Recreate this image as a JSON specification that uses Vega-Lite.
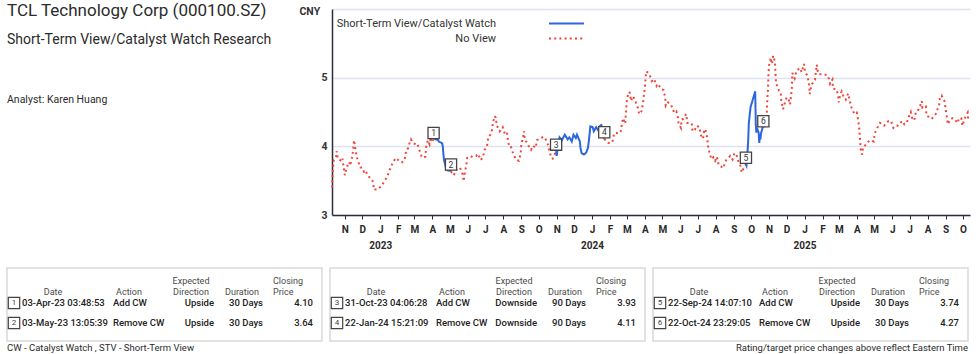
{
  "$schema": "https://vega.github.io/schema/vega-lite/v6.json",
  "background": "white",
  "padding": {"left": 5, "top": 1, "right": 2, "bottom": 2},
  "config": {
    "view": {"stroke": null},
    "font": "Roboto"
  },
  "datasets": {
    "prices": [
      {"d":"2022-10-10","p":3.40,"s":"N","g":"r1"},{"d":"2022-10-11","p":3.58,"s":"N","g":"r1"},{"d":"2022-10-12","p":3.70,"s":"N","g":"r1"},{"d":"2022-10-13","p":3.80,"s":"N","g":"r1"},{"d":"2022-10-17","p":3.85,"s":"N","g":"r1"},{"d":"2022-10-18","p":3.93,"s":"N","g":"r1"},{"d":"2022-10-20","p":3.82,"s":"N","g":"r1"},{"d":"2022-10-24","p":3.80,"s":"N","g":"r1"},{"d":"2022-10-27","p":3.78,"s":"N","g":"r1"},{"d":"2022-10-28","p":3.82,"s":"N","g":"r1"},
      {"d":"2022-11-01","p":3.58,"s":"N","g":"r1"},{"d":"2022-11-04","p":3.68,"s":"N","g":"r1"},{"d":"2022-11-07","p":3.75,"s":"N","g":"r1"},{"d":"2022-11-09","p":3.77,"s":"N","g":"r1"},{"d":"2022-11-10","p":3.72,"s":"N","g":"r1"},{"d":"2022-11-14","p":3.85,"s":"N","g":"r1"},{"d":"2022-11-16","p":4.00,"s":"N","g":"r1"},{"d":"2022-11-17","p":4.09,"s":"N","g":"r1"},{"d":"2022-11-21","p":3.87,"s":"N","g":"r1"},{"d":"2022-11-24","p":3.78,"s":"N","g":"r1"},{"d":"2022-11-28","p":3.69,"s":"N","g":"r1"},
      {"d":"2022-12-01","p":3.69,"s":"N","g":"r1"},{"d":"2022-12-04","p":3.63,"s":"N","g":"r1"},{"d":"2022-12-07","p":3.65,"s":"N","g":"r1"},{"d":"2022-12-09","p":3.60,"s":"N","g":"r1"},{"d":"2022-12-12","p":3.56,"s":"N","g":"r1"},{"d":"2022-12-16","p":3.53,"s":"N","g":"r1"},{"d":"2022-12-20","p":3.48,"s":"N","g":"r1"},{"d":"2022-12-21","p":3.37,"s":"N","g":"r1"},{"d":"2022-12-26","p":3.37,"s":"N","g":"r1"},{"d":"2022-12-30","p":3.39,"s":"N","g":"r1"},
      {"d":"2023-01-03","p":3.42,"s":"N","g":"r1"},{"d":"2023-01-09","p":3.50,"s":"N","g":"r1"},{"d":"2023-01-13","p":3.56,"s":"N","g":"r1"},{"d":"2023-01-18","p":3.67,"s":"N","g":"r1"},{"d":"2023-01-23","p":3.77,"s":"N","g":"r1"},{"d":"2023-01-28","p":3.83,"s":"N","g":"r1"},{"d":"2023-02-01","p":3.80,"s":"N","g":"r1"},{"d":"2023-02-05","p":3.77,"s":"N","g":"r1"},{"d":"2023-02-08","p":3.77,"s":"N","g":"r1"},{"d":"2023-02-12","p":3.80,"s":"N","g":"r1"},{"d":"2023-02-15","p":3.95,"s":"N","g":"r1"},{"d":"2023-02-18","p":3.97,"s":"N","g":"r1"},{"d":"2023-02-21","p":4.06,"s":"N","g":"r1"},{"d":"2023-02-23","p":4.10,"s":"N","g":"r1"},{"d":"2023-02-26","p":4.05,"s":"N","g":"r1"},
      {"d":"2023-03-03","p":4.03,"s":"N","g":"r1"},{"d":"2023-03-06","p":4.04,"s":"N","g":"r1"},{"d":"2023-03-09","p":3.96,"s":"N","g":"r1"},{"d":"2023-03-13","p":3.86,"s":"N","g":"r1"},{"d":"2023-03-16","p":3.83,"s":"N","g":"r1"},{"d":"2023-03-20","p":3.85,"s":"N","g":"r1"},{"d":"2023-03-21","p":3.98,"s":"N","g":"r1"},{"d":"2023-03-24","p":4.09,"s":"N","g":"r1"},{"d":"2023-03-27","p":4.03,"s":"N","g":"r1"},{"d":"2023-03-29","p":4.13,"s":"N","g":"r1"},{"d":"2023-03-31","p":4.06,"s":"N","g":"r1"},{"d":"2023-04-03","p":4.10,"s":"N","g":"r1"},
      {"d":"2023-04-03","p":4.10,"s":"C","g":"b1"},{"d":"2023-04-05","p":4.12,"s":"C","g":"b1"},{"d":"2023-04-07","p":4.10,"s":"C","g":"b1"},{"d":"2023-04-10","p":4.10,"s":"C","g":"b1"},{"d":"2023-04-12","p":4.07,"s":"C","g":"b1"},{"d":"2023-04-14","p":4.06,"s":"C","g":"b1"},{"d":"2023-04-17","p":4.05,"s":"C","g":"b1"},{"d":"2023-04-18","p":4.04,"s":"C","g":"b1"},{"d":"2023-04-19","p":3.98,"s":"C","g":"b1"},{"d":"2023-04-20","p":3.88,"s":"C","g":"b1"},{"d":"2023-04-21","p":3.80,"s":"C","g":"b1"},{"d":"2023-04-24","p":3.70,"s":"C","g":"b1"},{"d":"2023-04-25","p":3.66,"s":"C","g":"b1"},{"d":"2023-04-27","p":3.65,"s":"C","g":"b1"},{"d":"2023-05-03","p":3.64,"s":"C","g":"b1"},
      {"d":"2023-05-03","p":3.64,"s":"N","g":"r2"},{"d":"2023-05-04","p":3.62,"s":"N","g":"r2"},{"d":"2023-05-08","p":3.58,"s":"N","g":"r2"},{"d":"2023-05-11","p":3.65,"s":"N","g":"r2"},{"d":"2023-05-18","p":3.69,"s":"N","g":"r2"},{"d":"2023-05-22","p":3.63,"s":"N","g":"r2"},{"d":"2023-05-25","p":3.49,"s":"N","g":"r2"},{"d":"2023-05-26","p":3.58,"s":"N","g":"r2"},{"d":"2023-05-29","p":3.71,"s":"N","g":"r2"},{"d":"2023-05-31","p":3.83,"s":"N","g":"r2"},
      {"d":"2023-06-05","p":3.83,"s":"N","g":"r2"},{"d":"2023-06-09","p":3.86,"s":"N","g":"r2"},{"d":"2023-06-15","p":3.86,"s":"N","g":"r2"},{"d":"2023-06-19","p":3.89,"s":"N","g":"r2"},{"d":"2023-06-23","p":3.80,"s":"N","g":"r2"},{"d":"2023-06-27","p":3.84,"s":"N","g":"r2"},{"d":"2023-06-30","p":3.95,"s":"N","g":"r2"},{"d":"2023-07-04","p":4.00,"s":"N","g":"r2"},{"d":"2023-07-06","p":4.12,"s":"N","g":"r2"},{"d":"2023-07-12","p":4.20,"s":"N","g":"r2"},{"d":"2023-07-14","p":4.33,"s":"N","g":"r2"},{"d":"2023-07-17","p":4.44,"s":"N","g":"r2"},{"d":"2023-07-19","p":4.42,"s":"N","g":"r2"},{"d":"2023-07-21","p":4.30,"s":"N","g":"r2"},{"d":"2023-07-26","p":4.22,"s":"N","g":"r2"},{"d":"2023-07-31","p":4.28,"s":"N","g":"r2"},
      {"d":"2023-08-03","p":4.20,"s":"N","g":"r2"},{"d":"2023-08-07","p":4.22,"s":"N","g":"r2"},{"d":"2023-08-09","p":4.09,"s":"N","g":"r2"},{"d":"2023-08-11","p":4.00,"s":"N","g":"r2"},{"d":"2023-08-14","p":4.00,"s":"N","g":"r2"},{"d":"2023-08-17","p":3.92,"s":"N","g":"r2"},{"d":"2023-08-21","p":3.84,"s":"N","g":"r2"},{"d":"2023-08-24","p":3.80,"s":"N","g":"r2"},{"d":"2023-08-28","p":3.79,"s":"N","g":"r2"},{"d":"2023-08-31","p":3.90,"s":"N","g":"r2"},{"d":"2023-09-01","p":4.01,"s":"N","g":"r2"},{"d":"2023-09-04","p":4.13,"s":"N","g":"r2"},{"d":"2023-09-06","p":4.22,"s":"N","g":"r2"},{"d":"2023-09-07","p":4.10,"s":"N","g":"r2"},{"d":"2023-09-11","p":4.05,"s":"N","g":"r2"},{"d":"2023-09-14","p":4.00,"s":"N","g":"r2"},{"d":"2023-09-18","p":3.95,"s":"N","g":"r2"},{"d":"2023-09-21","p":4.01,"s":"N","g":"r2"},{"d":"2023-09-26","p":3.98,"s":"N","g":"r2"},{"d":"2023-09-28","p":4.09,"s":"N","g":"r2"},{"d":"2023-10-09","p":4.14,"s":"N","g":"r2"},{"d":"2023-10-12","p":4.12,"s":"N","g":"r2"},{"d":"2023-10-16","p":4.05,"s":"N","g":"r2"},{"d":"2023-10-19","p":3.95,"s":"N","g":"r2"},{"d":"2023-10-23","p":3.83,"s":"N","g":"r2"},{"d":"2023-10-25","p":3.82,"s":"N","g":"r2"},{"d":"2023-10-31","p":3.93,"s":"N","g":"r2"},
      {"d":"2023-10-31","p":3.93,"s":"C","g":"b2"},{"d":"2023-11-01","p":3.86,"s":"C","g":"b2"},{"d":"2023-11-03","p":3.98,"s":"C","g":"b2"},{"d":"2023-11-06","p":4.13,"s":"C","g":"b2"},{"d":"2023-11-10","p":4.09,"s":"C","g":"b2"},{"d":"2023-11-15","p":4.17,"s":"C","g":"b2"},{"d":"2023-11-20","p":4.10,"s":"C","g":"b2"},{"d":"2023-11-23","p":4.13,"s":"C","g":"b2"},{"d":"2023-11-27","p":4.07,"s":"C","g":"b2"},{"d":"2023-11-30","p":4.17,"s":"C","g":"b2"},{"d":"2023-12-04","p":4.12,"s":"C","g":"b2"},{"d":"2023-12-06","p":4.17,"s":"C","g":"b2"},{"d":"2023-12-11","p":4.07,"s":"C","g":"b2"},{"d":"2023-12-12","p":3.98,"s":"C","g":"b2"},{"d":"2023-12-14","p":3.90,"s":"C","g":"b2"},{"d":"2023-12-18","p":3.88,"s":"C","g":"b2"},{"d":"2023-12-22","p":3.91,"s":"C","g":"b2"},{"d":"2023-12-25","p":3.98,"s":"C","g":"b2"},{"d":"2023-12-27","p":4.12,"s":"C","g":"b2"},{"d":"2023-12-29","p":4.29,"s":"C","g":"b2"},{"d":"2024-01-02","p":4.28,"s":"C","g":"b2"},{"d":"2024-01-04","p":4.22,"s":"C","g":"b2"},{"d":"2024-01-08","p":4.28,"s":"C","g":"b2"},{"d":"2024-01-11","p":4.24,"s":"C","g":"b2"},{"d":"2024-01-15","p":4.30,"s":"C","g":"b2"},{"d":"2024-01-17","p":4.31,"s":"C","g":"b2"},{"d":"2024-01-19","p":4.20,"s":"C","g":"b2"},{"d":"2024-01-22","p":4.11,"s":"C","g":"b2"},
      {"d":"2024-01-22","p":4.11,"s":"N","g":"r3"},{"d":"2024-01-23","p":4.10,"s":"N","g":"r3"},{"d":"2024-01-29","p":4.05,"s":"N","g":"r3"},{"d":"2024-02-05","p":4.06,"s":"N","g":"r3"},{"d":"2024-02-08","p":4.19,"s":"N","g":"r3"},{"d":"2024-02-19","p":4.20,"s":"N","g":"r3"},{"d":"2024-02-21","p":4.30,"s":"N","g":"r3"},{"d":"2024-02-23","p":4.41,"s":"N","g":"r3"},{"d":"2024-02-27","p":4.33,"s":"N","g":"r3"},{"d":"2024-02-28","p":4.45,"s":"N","g":"r3"},{"d":"2024-02-29","p":4.56,"s":"N","g":"r3"},{"d":"2024-03-01","p":4.68,"s":"N","g":"r3"},{"d":"2024-03-04","p":4.79,"s":"N","g":"r3"},{"d":"2024-03-06","p":4.78,"s":"N","g":"r3"},{"d":"2024-03-08","p":4.66,"s":"N","g":"r3"},{"d":"2024-03-11","p":4.73,"s":"N","g":"r3"},{"d":"2024-03-15","p":4.68,"s":"N","g":"r3"},{"d":"2024-03-18","p":4.59,"s":"N","g":"r3"},{"d":"2024-03-20","p":4.56,"s":"N","g":"r3"},{"d":"2024-03-22","p":4.47,"s":"N","g":"r3"},{"d":"2024-03-26","p":4.51,"s":"N","g":"r3"},{"d":"2024-03-29","p":4.64,"s":"N","g":"r3"},{"d":"2024-03-30","p":4.73,"s":"N","g":"r3"},
      {"d":"2024-04-01","p":4.86,"s":"N","g":"r3"},{"d":"2024-04-02","p":4.98,"s":"N","g":"r3"},{"d":"2024-04-03","p":5.09,"s":"N","g":"r3"},{"d":"2024-04-07","p":5.07,"s":"N","g":"r3"},{"d":"2024-04-10","p":5.02,"s":"N","g":"r3"},{"d":"2024-04-13","p":4.95,"s":"N","g":"r3"},{"d":"2024-04-17","p":4.98,"s":"N","g":"r3"},{"d":"2024-04-19","p":4.93,"s":"N","g":"r3"},{"d":"2024-04-21","p":4.88,"s":"N","g":"r3"},{"d":"2024-04-24","p":4.91,"s":"N","g":"r3"},{"d":"2024-04-27","p":4.86,"s":"N","g":"r3"},{"d":"2024-04-30","p":4.83,"s":"N","g":"r3"},{"d":"2024-05-03","p":4.82,"s":"N","g":"r3"},{"d":"2024-05-06","p":4.71,"s":"N","g":"r3"},{"d":"2024-05-07","p":4.59,"s":"N","g":"r3"},{"d":"2024-05-11","p":4.64,"s":"N","g":"r3"},{"d":"2024-05-15","p":4.61,"s":"N","g":"r3"},{"d":"2024-05-19","p":4.56,"s":"N","g":"r3"},{"d":"2024-05-21","p":4.49,"s":"N","g":"r3"},{"d":"2024-05-25","p":4.51,"s":"N","g":"r3"},{"d":"2024-05-27","p":4.47,"s":"N","g":"r3"},{"d":"2024-05-29","p":4.34,"s":"N","g":"r3"},
      {"d":"2024-06-02","p":4.27,"s":"N","g":"r3"},{"d":"2024-06-03","p":4.39,"s":"N","g":"r3"},{"d":"2024-06-06","p":4.40,"s":"N","g":"r3"},{"d":"2024-06-11","p":4.47,"s":"N","g":"r3"},{"d":"2024-06-13","p":4.34,"s":"N","g":"r3"},{"d":"2024-06-17","p":4.35,"s":"N","g":"r3"},{"d":"2024-06-21","p":4.32,"s":"N","g":"r3"},{"d":"2024-06-22","p":4.22,"s":"N","g":"r3"},{"d":"2024-06-26","p":4.24,"s":"N","g":"r3"},{"d":"2024-06-29","p":4.30,"s":"N","g":"r3"},{"d":"2024-07-04","p":4.28,"s":"N","g":"r3"},{"d":"2024-07-06","p":4.17,"s":"N","g":"r3"},{"d":"2024-07-10","p":4.11,"s":"N","g":"r3"},{"d":"2024-07-12","p":4.22,"s":"N","g":"r3"},{"d":"2024-07-14","p":4.25,"s":"N","g":"r3"},{"d":"2024-07-17","p":4.14,"s":"N","g":"r3"},{"d":"2024-07-19","p":3.99,"s":"N","g":"r3"},{"d":"2024-07-22","p":3.88,"s":"N","g":"r3"},{"d":"2024-07-25","p":3.81,"s":"N","g":"r3"},{"d":"2024-07-28","p":3.84,"s":"N","g":"r3"},{"d":"2024-07-31","p":3.79,"s":"N","g":"r3"},
      {"d":"2024-08-03","p":3.85,"s":"N","g":"r3"},{"d":"2024-08-06","p":3.73,"s":"N","g":"r3"},{"d":"2024-08-10","p":3.71,"s":"N","g":"r3"},{"d":"2024-08-13","p":3.68,"s":"N","g":"r3"},{"d":"2024-08-15","p":3.71,"s":"N","g":"r3"},{"d":"2024-08-19","p":3.80,"s":"N","g":"r3"},{"d":"2024-08-23","p":3.83,"s":"N","g":"r3"},{"d":"2024-08-26","p":3.86,"s":"N","g":"r3"},{"d":"2024-08-30","p":3.81,"s":"N","g":"r3"},{"d":"2024-09-02","p":3.89,"s":"N","g":"r3"},{"d":"2024-09-05","p":3.90,"s":"N","g":"r3"},{"d":"2024-09-09","p":3.78,"s":"N","g":"r3"},{"d":"2024-09-12","p":3.73,"s":"N","g":"r3"},{"d":"2024-09-15","p":3.62,"s":"N","g":"r3"},{"d":"2024-09-18","p":3.68,"s":"N","g":"r3"},{"d":"2024-09-22","p":3.74,"s":"N","g":"r3"},
      {"d":"2024-09-22","p":3.74,"s":"C","g":"b3"},{"d":"2024-09-23","p":3.72,"s":"C","g":"b3"},{"d":"2024-09-24","p":3.80,"s":"C","g":"b3"},{"d":"2024-09-25","p":3.95,"s":"C","g":"b3"},{"d":"2024-09-26","p":4.10,"s":"C","g":"b3"},{"d":"2024-09-27","p":4.34,"s":"C","g":"b3"},{"d":"2024-09-30","p":4.57,"s":"C","g":"b3"},{"d":"2024-10-08","p":4.80,"s":"C","g":"b3"},{"d":"2024-10-09","p":4.32,"s":"C","g":"b3"},{"d":"2024-10-10","p":4.20,"s":"C","g":"b3"},{"d":"2024-10-11","p":4.27,"s":"C","g":"b3"},{"d":"2024-10-14","p":4.20,"s":"C","g":"b3"},{"d":"2024-10-15","p":4.05,"s":"C","g":"b3"},{"d":"2024-10-16","p":4.15,"s":"C","g":"b3"},{"d":"2024-10-17","p":4.10,"s":"C","g":"b3"},{"d":"2024-10-18","p":4.19,"s":"C","g":"b3"},{"d":"2024-10-21","p":4.28,"s":"C","g":"b3"},{"d":"2024-10-22","p":4.27,"s":"C","g":"b3"},
      {"d":"2024-10-22","p":4.27,"s":"N","g":"r4"},{"d":"2024-10-25","p":4.35,"s":"N","g":"r4"},{"d":"2024-10-28","p":4.49,"s":"N","g":"r4"},{"d":"2024-10-29","p":4.71,"s":"N","g":"r4"},{"d":"2024-10-30","p":4.82,"s":"N","g":"r4"},{"d":"2024-10-31","p":5.08,"s":"N","g":"r4"},{"d":"2024-11-01","p":5.19,"s":"N","g":"r4"},{"d":"2024-11-04","p":5.29,"s":"N","g":"r4"},{"d":"2024-11-05","p":5.20,"s":"N","g":"r4"},{"d":"2024-11-06","p":5.22,"s":"N","g":"r4"},{"d":"2024-11-07","p":5.28,"s":"N","g":"r4"},{"d":"2024-11-08","p":5.32,"s":"N","g":"r4"},{"d":"2024-11-11","p":5.23,"s":"N","g":"r4"},{"d":"2024-11-12","p":5.04,"s":"N","g":"r4"},{"d":"2024-11-13","p":4.92,"s":"N","g":"r4"},{"d":"2024-11-18","p":4.81,"s":"N","g":"r4"},{"d":"2024-11-21","p":4.78,"s":"N","g":"r4"},{"d":"2024-11-22","p":4.66,"s":"N","g":"r4"},{"d":"2024-11-25","p":4.54,"s":"N","g":"r4"},{"d":"2024-11-28","p":4.63,"s":"N","g":"r4"},
      {"d":"2024-12-01","p":4.71,"s":"N","g":"r4"},{"d":"2024-12-04","p":4.70,"s":"N","g":"r4"},{"d":"2024-12-07","p":4.61,"s":"N","g":"r4"},{"d":"2024-12-10","p":4.83,"s":"N","g":"r4"},{"d":"2024-12-11","p":5.07,"s":"N","g":"r4"},{"d":"2024-12-15","p":4.99,"s":"N","g":"r4"},{"d":"2024-12-18","p":5.10,"s":"N","g":"r4"},{"d":"2024-12-21","p":5.12,"s":"N","g":"r4"},{"d":"2024-12-24","p":5.14,"s":"N","g":"r4"},{"d":"2024-12-27","p":5.08,"s":"N","g":"r4"},{"d":"2024-12-31","p":5.20,"s":"N","g":"r4"},
      {"d":"2025-01-02","p":5.08,"s":"N","g":"r4"},{"d":"2025-01-06","p":5.03,"s":"N","g":"r4"},{"d":"2025-01-09","p":4.89,"s":"N","g":"r4"},{"d":"2025-01-10","p":4.76,"s":"N","g":"r4"},{"d":"2025-01-12","p":4.86,"s":"N","g":"r4"},{"d":"2025-01-14","p":4.91,"s":"N","g":"r4"},{"d":"2025-01-19","p":4.97,"s":"N","g":"r4"},{"d":"2025-01-22","p":5.19,"s":"N","g":"r4"},{"d":"2025-01-24","p":5.08,"s":"N","g":"r4"},{"d":"2025-01-26","p":5.05,"s":"N","g":"r4"},{"d":"2025-02-04","p":5.05,"s":"N","g":"r4"},{"d":"2025-02-10","p":5.03,"s":"N","g":"r4"},{"d":"2025-02-12","p":4.98,"s":"N","g":"r4"},{"d":"2025-02-14","p":4.91,"s":"N","g":"r4"},{"d":"2025-02-18","p":4.97,"s":"N","g":"r4"},{"d":"2025-02-19","p":4.84,"s":"N","g":"r4"},{"d":"2025-02-25","p":4.83,"s":"N","g":"r4"},{"d":"2025-02-28","p":4.73,"s":"N","g":"r4"},
      {"d":"2025-03-01","p":4.64,"s":"N","g":"r4"},{"d":"2025-03-03","p":4.74,"s":"N","g":"r4"},{"d":"2025-03-06","p":4.80,"s":"N","g":"r4"},{"d":"2025-03-09","p":4.73,"s":"N","g":"r4"},{"d":"2025-03-13","p":4.68,"s":"N","g":"r4"},{"d":"2025-03-17","p":4.77,"s":"N","g":"r4"},{"d":"2025-03-20","p":4.66,"s":"N","g":"r4"},{"d":"2025-03-23","p":4.56,"s":"N","g":"r4"},{"d":"2025-03-28","p":4.47,"s":"N","g":"r4"},{"d":"2025-04-01","p":4.49,"s":"N","g":"r4"},{"d":"2025-04-03","p":4.40,"s":"N","g":"r4"},{"d":"2025-04-05","p":4.28,"s":"N","g":"r4"},{"d":"2025-04-06","p":4.17,"s":"N","g":"r4"},{"d":"2025-04-07","p":4.05,"s":"N","g":"r4"},{"d":"2025-04-08","p":3.93,"s":"N","g":"r4"},{"d":"2025-04-10","p":3.88,"s":"N","g":"r4"},{"d":"2025-04-12","p":3.99,"s":"N","g":"r4"},{"d":"2025-04-15","p":4.01,"s":"N","g":"r4"},{"d":"2025-04-21","p":4.07,"s":"N","g":"r4"},{"d":"2025-04-26","p":4.09,"s":"N","g":"r4"},{"d":"2025-04-30","p":4.07,"s":"N","g":"r4"},
      {"d":"2025-05-02","p":4.19,"s":"N","g":"r4"},{"d":"2025-05-07","p":4.28,"s":"N","g":"r4"},{"d":"2025-05-11","p":4.34,"s":"N","g":"r4"},{"d":"2025-05-15","p":4.32,"s":"N","g":"r4"},{"d":"2025-05-18","p":4.30,"s":"N","g":"r4"},{"d":"2025-05-23","p":4.35,"s":"N","g":"r4"},{"d":"2025-05-26","p":4.37,"s":"N","g":"r4"},{"d":"2025-05-30","p":4.37,"s":"N","g":"r4"},{"d":"2025-06-03","p":4.27,"s":"N","g":"r4"},{"d":"2025-06-06","p":4.30,"s":"N","g":"r4"},{"d":"2025-06-10","p":4.30,"s":"N","g":"r4"},{"d":"2025-06-14","p":4.32,"s":"N","g":"r4"},{"d":"2025-06-18","p":4.37,"s":"N","g":"r4"},{"d":"2025-06-22","p":4.32,"s":"N","g":"r4"},{"d":"2025-06-26","p":4.34,"s":"N","g":"r4"},{"d":"2025-06-29","p":4.42,"s":"N","g":"r4"},
      {"d":"2025-07-03","p":4.50,"s":"N","g":"r4"},{"d":"2025-07-06","p":4.39,"s":"N","g":"r4"},{"d":"2025-07-09","p":4.38,"s":"N","g":"r4"},{"d":"2025-07-12","p":4.51,"s":"N","g":"r4"},{"d":"2025-07-16","p":4.53,"s":"N","g":"r4"},{"d":"2025-07-19","p":4.59,"s":"N","g":"r4"},{"d":"2025-07-22","p":4.66,"s":"N","g":"r4"},{"d":"2025-07-23","p":4.56,"s":"N","g":"r4"},{"d":"2025-07-29","p":4.58,"s":"N","g":"r4"},{"d":"2025-07-30","p":4.45,"s":"N","g":"r4"},{"d":"2025-08-03","p":4.43,"s":"N","g":"r4"},{"d":"2025-08-08","p":4.40,"s":"N","g":"r4"},{"d":"2025-08-11","p":4.43,"s":"N","g":"r4"},{"d":"2025-08-15","p":4.47,"s":"N","g":"r4"},{"d":"2025-08-18","p":4.54,"s":"N","g":"r4"},{"d":"2025-08-21","p":4.61,"s":"N","g":"r4"},{"d":"2025-08-22","p":4.71,"s":"N","g":"r4"},{"d":"2025-08-25","p":4.74,"s":"N","g":"r4"},{"d":"2025-08-28","p":4.69,"s":"N","g":"r4"},{"d":"2025-08-30","p":4.66,"s":"N","g":"r4"},
      {"d":"2025-09-01","p":4.55,"s":"N","g":"r4"},{"d":"2025-09-03","p":4.43,"s":"N","g":"r4"},{"d":"2025-09-05","p":4.32,"s":"N","g":"r4"},{"d":"2025-09-09","p":4.39,"s":"N","g":"r4"},{"d":"2025-09-13","p":4.41,"s":"N","g":"r4"},{"d":"2025-09-17","p":4.39,"s":"N","g":"r4"},{"d":"2025-09-22","p":4.34,"s":"N","g":"r4"},{"d":"2025-09-24","p":4.41,"s":"N","g":"r4"},{"d":"2025-09-28","p":4.41,"s":"N","g":"r4"},{"d":"2025-09-30","p":4.30,"s":"N","g":"r4"},{"d":"2025-10-05","p":4.43,"s":"N","g":"r4"},{"d":"2025-10-09","p":4.49,"s":"N","g":"r4"},{"d":"2025-10-10","p":4.37,"s":"N","g":"r4"}
    ],
    "events": [
      {"table":1,"row":1,"n":1,"d":"2023-04-03","date":"03-Apr-23 03:48:53","action":"Add CW","dir":"Upside","dur":"30 Days","price":4.10},
      {"table":1,"row":2,"n":2,"d":"2023-05-03","date":"03-May-23 13:05:39","action":"Remove CW","dir":"Upside","dur":"30 Days","price":3.64},
      {"table":2,"row":1,"n":3,"d":"2023-10-31","date":"31-Oct-23 04:06:28","action":"Add CW","dir":"Downside","dur":"90 Days","price":3.93},
      {"table":2,"row":2,"n":4,"d":"2024-01-22","date":"22-Jan-24 15:21:09","action":"Remove CW","dir":"Downside","dur":"90 Days","price":4.11},
      {"table":3,"row":1,"n":5,"d":"2024-09-22","date":"22-Sep-24 14:07:10","action":"Add CW","dir":"Upside","dur":"30 Days","price":3.74},
      {"table":3,"row":2,"n":6,"d":"2024-10-22","date":"22-Oct-24 23:29:05","action":"Remove CW","dir":"Upside","dur":"30 Days","price":4.27}
    ]
  },
  "vconcat": [
    {
      "hconcat": [
        {
          "width": 270,
          "height": 93,
          "layer": [
            {
              "data": {"values": [{"line": "title", "label": "TCL Technology Corp (000100.SZ)"}]},
              "mark": {"type": "text", "align": "left", "baseline": "middle", "fontSize": 17, "color": "#2b2b2b", "dy": -1},
              "encoding": {
                "x": {"datum": 0, "type": "quantitative", "scale": {"domain": [0, 1]}, "axis": null},
                "y": {"field": "line", "type": "nominal", "scale": {"domain": ["title", "subtitle", "gap", "analyst"], "padding": 0.1}, "axis": null},
                "text": {"field": "label"}
              }
            },
            {
              "data": {"values": [{"line": "subtitle", "label": "Short-Term View/Catalyst Watch Research"}]},
              "mark": {"type": "text", "align": "left", "baseline": "middle", "fontSize": 14, "color": "#2b2b2b", "dy": -1},
              "encoding": {
                "x": {"datum": 0, "type": "quantitative", "axis": null},
                "y": {"field": "line", "type": "nominal", "axis": null},
                "text": {"field": "label"}
              }
            },
            {
              "data": {"values": [{"line": "analyst", "label": "Analyst: Karen Huang"}]},
              "mark": {"type": "text", "align": "left", "baseline": "middle", "fontSize": 10.5, "color": "#2b2b2b", "dy": 1},
              "encoding": {
                "x": {"datum": 0, "type": "quantitative", "axis": null},
                "y": {"field": "line", "type": "nominal", "axis": null},
                "text": {"field": "label"}
              }
            }
          ]
        },
        {
          "width": 638,
          "height": 206,
          "layer": [
            {
              "data": {"name": "prices"},
              "mark": {"type": "line", "strokeWidth": 2, "strokeCap": "butt"},
              "encoding": {
                "x": {
                  "field": "d", "type": "temporal",
                  "scale": {"domain": [{"year": 2022, "month": 10, "date": 10}, {"year": 2025, "month": 10, "date": 13}]},
                  "axis": {
                    "title": null, "grid": false,
                    "tickCount": {"interval": "month", "step": 1},
                    "labelExpr": "month(datum.value) == 0 ? [substring(timeFormat(datum.value, '%b'), 0, 1), timeFormat(datum.value, '%Y')] : substring(timeFormat(datum.value, '%b'), 0, 1)",
                    "labelOverlap": false, "labelFlush": false,
                    "labelFontSize": 10, "labelFontWeight": "bold", "labelColor": "#2a2a2a",
                    "labelLineHeight": 16, "labelPadding": 5, "labelBaseline": "top",
                    "tickSize": 4, "tickColor": "#2a2e38", "tickWidth": 1,
                    "domainColor": "#2a2e38", "domainWidth": 1.5
                  }
                },
                "y": {
                  "field": "p", "type": "quantitative",
                  "scale": {"domain": [3, 6]},
                  "axis": {
                    "values": [3, 4, 5, 6],
                    "labelExpr": "datum.value == 6 ? '' : format(datum.value, 'd')",
                    "grid": true, "gridColor": "#dfe2f2", "gridWidth": 1.5,
                    "ticks": false,
                    "domainColor": "#2a2e38", "domainWidth": 1.5,
                    "labelFontSize": 10.5, "labelFontWeight": "bold", "labelColor": "#333333", "labelPadding": 5,
                    "title": "CNY", "titleAngle": 0, "titleX": -33, "titleY": 2,
                    "titleAlign": "left", "titleBaseline": "middle",
                    "titleFontSize": 10.5, "titleFontWeight": "bold", "titleColor": "#333333"
                  }
                },
                "color": {
                  "field": "s", "type": "nominal",
                  "scale": {"domain": ["C", "N"], "range": ["#2d66de", "#f0453a"]},
                  "legend": {
                    "orient": "none", "legendX": 542, "legendY": 9, "title": null, "direction": "vertical",
                    "symbolType": "M-4,0H4", "symbolSize": 76.5625, "symbolStrokeWidth": 2, "symbolOffset": 12,
                    "labelAlign": "right", "labelBaseline": "middle", "labelOffset": -76, "labelFontSize": 11, "labelColor": "#333333", "labelLimit": 300,
                    "rowPadding": 3,
                    "labelExpr": "datum.label == 'C' ? 'Short-Term View/Catalyst Watch' : 'No View'"
                  }
                },
                "strokeDash": {
                  "field": "s", "type": "nominal",
                  "scale": {"domain": ["C", "N"], "range": [[1, 0], [2, 3.2]]},
                  "legend": {
                    "orient": "none", "legendX": 542, "legendY": 9, "title": null, "direction": "vertical",
                    "symbolType": "M-4,0H4", "symbolSize": 76.5625, "symbolStrokeWidth": 2, "symbolOffset": 12,
                    "labelAlign": "right", "labelBaseline": "middle", "labelOffset": -76, "labelFontSize": 11, "labelColor": "#333333", "labelLimit": 300,
                    "rowPadding": 3,
                    "labelExpr": "datum.label == 'C' ? 'Short-Term View/Catalyst Watch' : 'No View'"
                  }
                },
                "detail": {"field": "g"}
              }
            },
            {
              "data": {"name": "events"},
              "mark": {"type": "square", "size": 125, "fill": "white", "stroke": "#444444", "strokeWidth": 1.3, "opacity": 1, "yOffset": -6.5},
              "encoding": {
                "x": {"field": "d", "type": "temporal"},
                "y": {"field": "price", "type": "quantitative"}
              }
            },
            {
              "data": {"name": "events"},
              "mark": {"type": "text", "fontSize": 8.5, "color": "#333333", "dy": -6.5, "baseline": "middle"},
              "encoding": {
                "x": {"field": "d", "type": "temporal"},
                "y": {"field": "price", "type": "quantitative"},
                "text": {"field": "n"}
              }
            }
          ]
        }
      ],
      "spacing": 22
    },
    {
      "vconcat": [
        {
          "data": {"name": "events"},
          "facet": {"column": {"field": "table", "type": "ordinal", "header": {"title": null, "labels": false}}},
          "spacing": 5,
          "spec": {
            "width": 315,
            "height": 73,
            "view": {"stroke": "#d9d9d9", "strokeWidth": 1.5},
            "layer": [
              {"transform": [{"filter": "datum.row == 1"}], "mark": {"type": "text", "text": "Expected", "align": "center", "baseline": "middle", "fontSize": 9, "color": "#4a4a4a"},
               "encoding": {"x": {"datum": 184, "type": "quantitative", "scale": {"domain": [0, 315], "nice": false, "zero": false}, "axis": null}, "y": {"datum": -0.08, "type": "quantitative", "scale": {"domain": [-0.75, 2.9], "nice": false, "zero": false, "reverse": true}, "axis": null}}},
              {"transform": [{"filter": "datum.row == 1"}], "mark": {"type": "text", "text": "Closing", "align": "left", "baseline": "middle", "fontSize": 9, "color": "#4a4a4a"},
               "encoding": {"x": {"datum": 266, "type": "quantitative", "axis": null}, "y": {"datum": -0.08, "type": "quantitative", "axis": null}}},
              {"transform": [{"filter": "datum.row == 1"}], "mark": {"type": "text", "text": "Date", "align": "center", "baseline": "middle", "fontSize": 9, "color": "#4a4a4a"},
               "encoding": {"x": {"datum": 46, "type": "quantitative", "axis": null}, "y": {"datum": 0.47, "type": "quantitative", "axis": null}}},
              {"transform": [{"filter": "datum.row == 1"}], "mark": {"type": "text", "text": "Action", "align": "center", "baseline": "middle", "fontSize": 9, "color": "#4a4a4a"},
               "encoding": {"x": {"datum": 122, "type": "quantitative", "axis": null}, "y": {"datum": 0.47, "type": "quantitative", "axis": null}}},
              {"transform": [{"filter": "datum.row == 1"}], "mark": {"type": "text", "text": "Direction", "align": "center", "baseline": "middle", "fontSize": 9, "color": "#4a4a4a"},
               "encoding": {"x": {"datum": 184, "type": "quantitative", "axis": null}, "y": {"datum": 0.47, "type": "quantitative", "axis": null}}},
              {"transform": [{"filter": "datum.row == 1"}], "mark": {"type": "text", "text": "Duration", "align": "center", "baseline": "middle", "fontSize": 9, "color": "#4a4a4a"},
               "encoding": {"x": {"datum": 235, "type": "quantitative", "axis": null}, "y": {"datum": 0.47, "type": "quantitative", "axis": null}}},
              {"transform": [{"filter": "datum.row == 1"}], "mark": {"type": "text", "text": "Price", "align": "left", "baseline": "middle", "fontSize": 9, "color": "#4a4a4a"},
               "encoding": {"x": {"datum": 266, "type": "quantitative", "axis": null}, "y": {"datum": 0.47, "type": "quantitative", "axis": null}}},
              {"mark": {"type": "text", "align": "left", "baseline": "middle", "fontSize": 9.5, "fontWeight": 500, "color": "#222222"},
               "encoding": {"x": {"datum": 15, "type": "quantitative", "axis": null}, "y": {"field": "row", "type": "quantitative", "axis": null}, "text": {"field": "date"}}},
              {"mark": {"type": "text", "align": "left", "baseline": "middle", "fontSize": 9.5, "fontWeight": 500, "color": "#222222"},
               "encoding": {"x": {"datum": 106, "type": "quantitative", "axis": null}, "y": {"field": "row", "type": "quantitative", "axis": null}, "text": {"field": "action"}}},
              {"mark": {"type": "text", "align": "right", "baseline": "middle", "fontSize": 9.5, "fontWeight": 500, "color": "#222222"},
               "encoding": {"x": {"datum": 207, "type": "quantitative", "axis": null}, "y": {"field": "row", "type": "quantitative", "axis": null}, "text": {"field": "dir"}}},
              {"mark": {"type": "text", "align": "right", "baseline": "middle", "fontSize": 9.5, "fontWeight": 500, "color": "#222222"},
               "encoding": {"x": {"datum": 256, "type": "quantitative", "axis": null}, "y": {"field": "row", "type": "quantitative", "axis": null}, "text": {"field": "dur"}}},
              {"mark": {"type": "text", "align": "right", "baseline": "middle", "fontSize": 9.5, "fontWeight": 500, "color": "#222222"},
               "encoding": {"x": {"datum": 306, "type": "quantitative", "axis": null}, "y": {"field": "row", "type": "quantitative", "axis": null}, "text": {"field": "price", "format": ".2f"}}},
              {"mark": {"type": "square", "size": 130, "fill": "white", "stroke": "#444444", "strokeWidth": 1.2, "opacity": 1},
               "encoding": {"x": {"datum": 7, "type": "quantitative", "axis": null}, "y": {"field": "row", "type": "quantitative", "axis": null}}},
              {"mark": {"type": "text", "align": "center", "baseline": "middle", "fontSize": 8, "color": "#444444"},
               "encoding": {"x": {"datum": 7, "type": "quantitative", "axis": null}, "y": {"field": "row", "type": "quantitative", "axis": null}, "text": {"field": "n"}}}
            ]
          }
        },
        {
          "width": 961,
          "height": 10,
          "layer": [
            {
              "data": {"values": [{"note": "CW - Catalyst Watch , STV - Short-Term View"}]},
              "mark": {"type": "text", "align": "left", "baseline": "middle", "fontSize": 9.5, "color": "#2b2b2b"},
              "encoding": {"x": {"datum": 0, "type": "quantitative", "scale": {"domain": [0, 1]}, "axis": null}, "text": {"field": "note"}}
            },
            {
              "data": {"values": [{"note": "Rating/target price changes above reflect Eastern Time"}]},
              "mark": {"type": "text", "align": "right", "baseline": "middle", "fontSize": 9.5, "color": "#2b2b2b"},
              "encoding": {"x": {"datum": 1, "type": "quantitative", "axis": null}, "text": {"field": "note"}}
            }
          ]
        }
      ],
      "spacing": 1
    }
  ],
  "spacing": 17
}
